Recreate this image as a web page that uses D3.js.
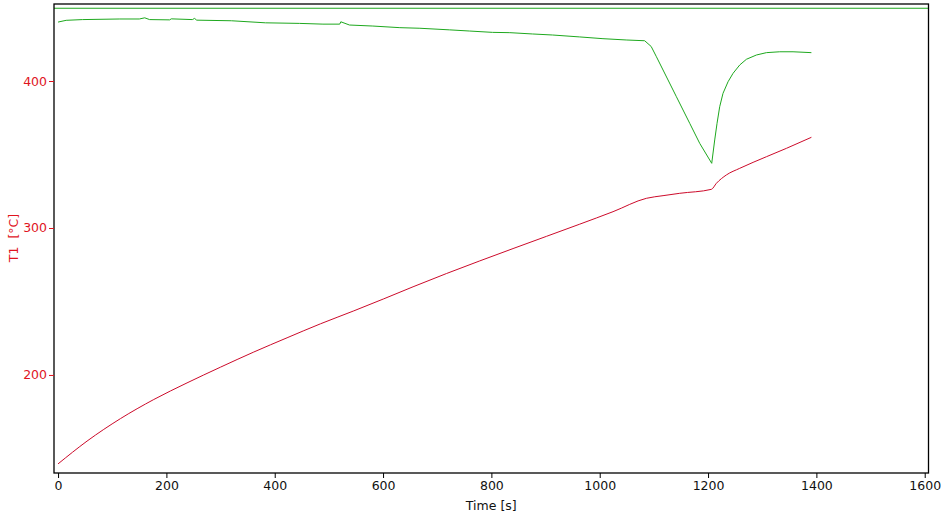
<!DOCTYPE html>
<html><head><meta charset="utf-8">
<script src="https://cdn.jsdelivr.net/npm/d3@7"></script>
<style>
html,body{margin:0;padding:0;background:#fff;}
svg{display:block;font-family:"DejaVu Sans",sans-serif;}
</style></head>
<body><svg id="c" width="944" height="518"></svg>
<script>
// Data (time in s, temperature in °C)
const redTime = [0,53.5,115.2,176.7,238.1,299.8,361.3,422.8,484.4,545.9,601.3,655.4,717,778.5,840,901.6,963.1,1024.6,1086.2,1116.9,1147.7,1206.2,1215.4,1233.9,1258.5,1307.8,1344.7,1390.8];
const redTemp = [139.5,155.0,170.3,183.3,194.6,205.3,215.6,225.3,234.8,243.6,251.8,260.0,269.0,277.6,286.0,294.3,302.6,311.1,320.2,322.0,323.6,326.3,330.4,336.1,340.6,348.5,354.2,361.7];

const greenTime = [0,15,45,114,150,160,169,206,209,248,252,256,320,383,446,489,520,522,538,581,631,668,723,760,802,834,876,913,963,1006,1050,1083,1095,1104.7,1141.6,1166.2,1184.6,1206.8,1212.3,1216.6,1221.5,1227.6,1236.9,1246.1,1258.5,1270.9,1289.3,1307.8,1332.3,1356.9,1390.8];
const greenTemp = [440.1,441.3,441.8,442.2,442.2,443.0,441.8,441.6,442.3,441.8,442.6,441.4,441.0,439.6,439.2,438.7,438.7,440.3,438.1,437.4,436.3,435.9,434.8,434.0,433.1,432.9,432.0,431.3,430.0,428.8,427.9,427.4,423.5,416.5,389.3,371.2,357.6,344.0,359.9,371.2,382.5,391.6,399.5,405.2,410.9,414.8,417.7,419.3,419.9,419.9,419.3];

const refLevel = [449.5];

const xTicks = [0,200,400,600,800,1000,1200,1400,1600];
const yTicks = [200,300,400];
const xDomain = [-7.5,1607];
const yDomain = [133.3,452.4];

const svg = d3.select("#c");
const m = {l:54, r:15.5, t:4, b:45};
const W = 944, H = 518;
const x = d3.scaleLinear().domain(xDomain).range([m.l, W - m.r]);
const y = d3.scaleLinear().domain(yDomain).range([H - m.b, m.t]);

const red = "#cc0a2a", redText = "#e0141e", green = "#1ea81e";

svg.append("defs").append("clipPath").attr("id","pc")
  .append("rect").attr("x", m.l).attr("y", m.t).attr("width", W-m.r-m.l).attr("height", H-m.b-m.t);

const plot = svg.append("g").attr("clip-path","url(#pc)");

// reference line
plot.selectAll("line.ref").data(refLevel).join("line").attr("class","ref")
  .attr("x1", x(xDomain[0])).attr("x2", x(xDomain[1]))
  .attr("y1", d=>y(d)).attr("y2", d=>y(d))
  .attr("stroke", green).attr("stroke-width", 1.2);

const lineLin = d3.line().x(d=>x(d[0])).y(d=>y(d[1]));
const lineSmooth = d3.line().x(d=>x(d[0])).y(d=>y(d[1])).curve(d3.curveMonotoneX);
plot.append("path").datum(greenTime.map((t,i)=>[t,greenTemp[i]]))
  .attr("d", lineLin).attr("fill","none").attr("stroke",green).attr("stroke-width",1);
plot.append("path").datum(redTime.map((t,i)=>[t,redTemp[i]]))
  .attr("d", lineSmooth).attr("fill","none").attr("stroke",red).attr("stroke-width",1);

// frame
svg.append("rect").attr("x", m.l).attr("y", m.t).attr("width", W-m.r-m.l).attr("height", H-m.b-m.t)
  .attr("fill","none").attr("stroke","#000").attr("stroke-width",1.3);

// axes
const xa = svg.append("g").attr("transform",`translate(0,${H-m.b})`)
  .call(d3.axisBottom(x).tickValues(xTicks).tickSize(5).tickPadding(3).tickFormat(d3.format("d")));
xa.select(".domain").remove();
xa.selectAll("text").attr("fill","#111").style("font-size","12.5px").style("font-family","DejaVu Sans");
xa.selectAll("line").attr("stroke","#000");

const ya = svg.append("g").attr("transform",`translate(${m.l},0)`)
  .call(d3.axisLeft(y).tickValues(yTicks).tickSize(5).tickPadding(2).tickFormat(d3.format("d")));
ya.select(".domain").remove();
ya.selectAll("text").attr("fill",redText).style("font-size","12.5px").style("font-family","DejaVu Sans");
ya.selectAll("line").attr("stroke",redText);

svg.append("text").attr("x", (m.l + W - m.r)/2).attr("y", 510)
  .attr("text-anchor","middle").attr("fill","#111").style("font-size","12.5px").text("Time [s]");
svg.append("text").attr("transform",`translate(18,238) rotate(-90)`)
  .attr("text-anchor","middle").attr("fill",redText).style("font-size","12.5px")
  .attr("xml:space","preserve").text("T1  [°C]");
</script></body></html>
